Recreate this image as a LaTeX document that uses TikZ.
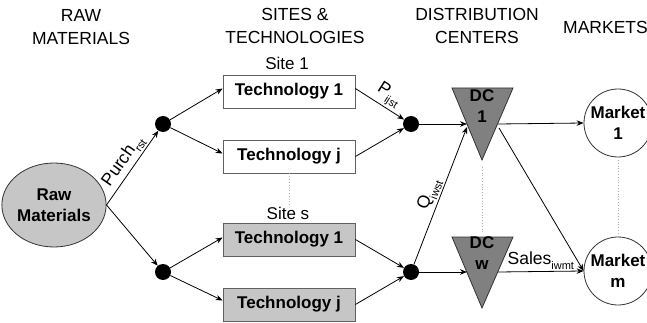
\documentclass[tikz,border=0pt]{standalone}
\usepackage{fontspec}
\setmainfont{Liberation Sans}
\usetikzlibrary{arrows.meta,calc,shapes.geometric}
\newcommand\subtxt[1]{\raisebox{-0.3em}{\fontsize{11}{11}\selectfont #1}}
\begin{document}
\begin{tikzpicture}[x=1pt,y=-1pt,
  head/.style={font=\fontsize{17.5}{22.5}\selectfont, align=center, inner sep=0},
  bold/.style={font=\fontsize{17}{21}\selectfont\bfseries, align=center, inner sep=0},
  techbox/.style={draw=gray!75!black, line width=0.8pt, minimum width=132pt, minimum height=33pt, inner sep=0, font=\fontsize{17}{20}\selectfont\bfseries},
  jdot/.style={circle, fill=black, minimum size=16pt, inner sep=0},
  arr/.style={-{Stealth[length=7pt,width=5.5pt]}, line width=0.8pt},
  lbl/.style={font=\fontsize{17.5}{20}\selectfont, inner sep=1.5pt},
  dots/.style={draw=gray!60, dotted, line width=0.8pt},
  dcshape/.style={draw=black!80, fill=gray!75!black!80, line width=0.8pt},
]
\useasboundingbox (0,0) rectangle (647,323);

% headings
\node[head] (hraw) at (81,27) {RAW\\MATERIALS};
\node[head] (hsite) at (295,26) {SITES \&\\TECHNOLOGIES};
\node[head] (hdc) at (477,26) {DISTRIBUTION\\CENTERS};
\node[head, anchor=west] (hmk) at (563,27) {MARKETS};

% raw materials
\node[ellipse, draw=black!80, fill=gray!45, line width=0.8pt, minimum width=91pt, minimum height=84pt, inner sep=0, bold] (raw) at (54,205) {Raw\\Materials};

% junction dots
\node[jdot] (d1) at (163,124) {};
\node[jdot] (d2) at (163,272) {};
\node[jdot] (e1) at (411,124) {};
\node[jdot] (e2) at (411,272) {};

% technology boxes
\node[font=\fontsize{17}{20}\selectfont] (s1) at (287,63) {Site 1};
\node[techbox, fill=white] (t11) at (289,91.5) {Technology 1};
\node[techbox, fill=white] (t1j) at (289,156.5) {Technology j};
\node[font=\fontsize{17}{20}\selectfont] (ss) at (288,213) {Site s};
\node[techbox, fill=gray!45] (ts1) at (289,239.5) {Technology 1};
\node[techbox, fill=gray!45] (tsj) at (289,304.5) {Technology j};
\draw[dots] (t1j.south) -- (289,205);

% distribution centres
\draw[dcshape] (452,88) -- (513,88) -- (482,160) -- cycle;
\draw[dcshape] (452,237) -- (513,237) -- (482,308) -- cycle;
\node[bold] (dc1) at (482,106) {DC\\1};
\node[bold] (dcw) at (482,253.5) {DC\\w};
\draw[draw=blue!25!gray!50, dotted, line width=0.8pt] (482,167) -- (482,233);
\coordinate (dc1in) at (467,124);
\coordinate (dc1q) at (467,127);
\coordinate (dcwin) at (467,272);
\coordinate (dc1out) at (498,124);
\coordinate (dc1out2) at (499,128);
\coordinate (dcwout) at (498,272);

% markets
\node[circle, draw=black!80, fill=white, line width=0.8pt, minimum size=68pt, inner sep=0, bold] (m1) at (618,123) {Market\\1};
\node[circle, draw=black!80, fill=white, line width=0.8pt, minimum size=68pt, inner sep=0, bold] (mm) at (618,271) {Market\\m};
\draw[dots] (618,160) -- (618,233);

% connectors
\draw[arr] (raw.east) -- node[lbl, sloped, above] {Purch\subtxt{rst}} (d1);
\draw[arr] (raw.east) -- (d2);
\draw[arr] (d1) -- ([yshift=3pt]t11.west);
\draw[arr] (d1) -- ([yshift=3pt]t1j.west);
\draw[arr] (d2) -- ([yshift=2pt]ts1.west);
\draw[arr] (d2) -- ([yshift=4pt]tsj.west);
\draw[arr] ([yshift=3pt]t11.east) -- node[lbl, sloped, above, pos=0.55] {P\subtxt{ijst}} (e1);
\draw[arr] (t1j.east) -- (e1);
\draw[arr] (ts1.east) -- (e2);
\draw[arr] (tsj.east) -- (e2);
\draw[arr] (e1) -- (dc1in);
\draw[arr] (e2) -- (dcwin);
\draw[arr] (e2) -- node[lbl, sloped, above, pos=0.48] {Q\subtxt{iwst}} (dc1q);
\draw[arr] (dc1out) -- (m1.west);
\draw[arr] (dc1out2) -- (mm.west);
\draw[arr] (dcwout) -- node[lbl, above, pos=0.5] {Sales\subtxt{iwmt}} (mm.west);
\end{tikzpicture}
\end{document}
